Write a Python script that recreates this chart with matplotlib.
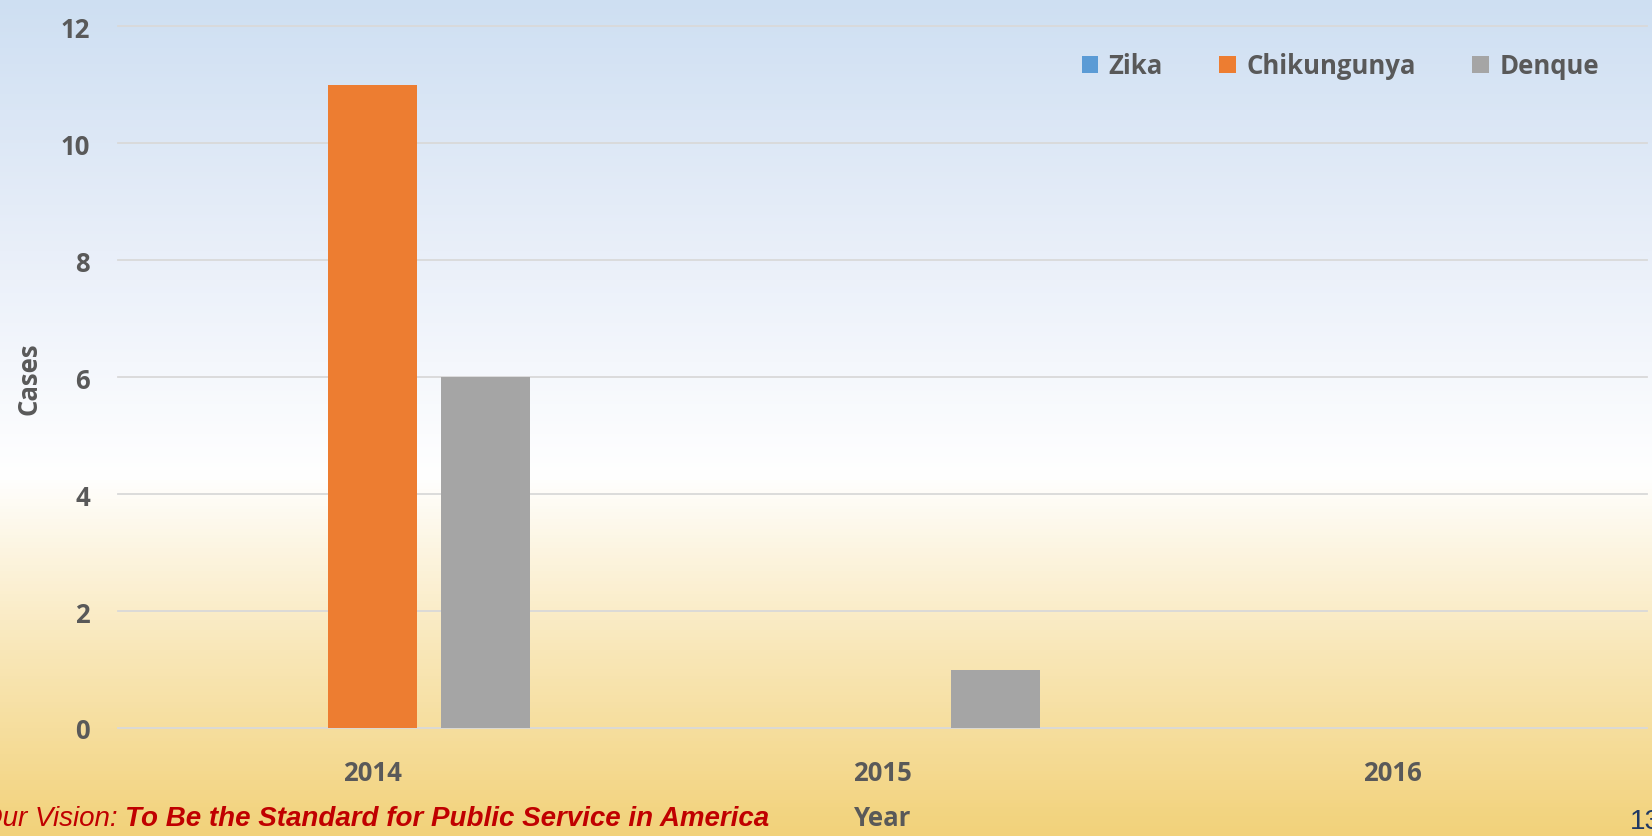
import matplotlib
matplotlib.use("Agg")
import matplotlib.pyplot as plt
import numpy as np
from matplotlib.colors import LinearSegmentedColormap

# Mosquito-borne disease cases by year
years = ["2014", "2015", "2016"]
zika = [0, 0, 0]
chikungunya = [11, 0, 0]
denque = [6, 1, 0]
series_names = ["Zika", "Chikungunya", "Denque"]
series_colors = ["#5b9bd5", "#ed7d31", "#a5a5a5"]
y_ticks = [0, 2, 4, 6, 8, 10, 12]

W, H = 1652, 837
fig = plt.figure(figsize=(W / 100, H / 100), dpi=100)

# background gradient: light blue -> white -> gold
bg = fig.add_axes([0, 0, 1, 1], zorder=-10)
cmap = LinearSegmentedColormap.from_list(
    "bg", [(0.0, "#f2d27a"), (0.22, "#f9e7b8"), (0.43, "#ffffff"), (0.7, "#e9eff9"), (1.0, "#cedff2")])
grad = np.linspace(0, 1, 256).reshape(-1, 1)
bg.imshow(grad, aspect="auto", cmap=cmap, origin="lower", extent=[0, 1, 0, 1])
bg.axis("off")

ax = fig.add_axes([118 / W, 1 - 729 / H, 1529 / W, (729 - 27.4) / H])
ax.patch.set_alpha(0)

font = "Open Sans"
fsize = 18.5
tick_color = "#595959"
x = np.arange(len(years))
width = 0.175
step = 0.221
for i, (name, vals, col) in enumerate(zip(series_names, [zika, chikungunya, denque], series_colors)):
    ax.bar(x + (i - 1) * step, vals, width, color=col, label=name, zorder=3)

ax.set_xlim(-0.5, len(years) - 0.5)
ax.set_ylim(0, 12)
ax.set_yticks(y_ticks)
ax.set_xticks(x)
ax.set_xticklabels(years)
for s in ax.spines.values():
    s.set_visible(False)
ax.tick_params(length=0)
ax.tick_params(axis="y", pad=20)
ax.tick_params(axis="x", pad=22)
for lab in ax.get_xticklabels() + ax.get_yticklabels():
    lab.set_fontfamily(font)
    lab.set_fontweight("bold")
    lab.set_fontsize(fsize)
    lab.set_color(tick_color)
for yv in y_ticks:
    ax.axhline(yv, color="#d9d9d9", lw=1.3, zorder=1, clip_on=False)

fig.text(29.5 / W, 1 - 379 / H, "Cases", rotation=90, ha="center", va="center",
         fontfamily=font, fontweight="bold", fontsize=fsize, color=tick_color)
fig.text(883 / W, 1 - 819 / H, "Year", ha="center", va="center",
         fontfamily=font, fontweight="bold", fontsize=fsize, color=tick_color)

ax.legend(loc="center right", bbox_to_anchor=(1622 / W, 1 - 67 / H), bbox_transform=fig.transFigure,
          ncol=3, frameon=False, handlelength=0.65, handleheight=0.65, handletextpad=0.4,
          columnspacing=2.2, prop={"family": font, "weight": "bold", "size": fsize}, labelcolor=tick_color)

# footer
fig.canvas.draw()
r = fig.canvas.get_renderer()
fam = ["Liberation Sans"]
t2 = fig.text(769 / W, 1 - 826 / H, "To Be the Standard for Public Service in America", ha="right",
              va="baseline", fontfamily=fam, fontstyle="italic", fontweight="bold", fontsize=20, color="#c00000")
bb = t2.get_window_extent(r)
fig.text(bb.x0 / W, 1 - 826 / H, "Our Vision: ", ha="right", va="baseline",
         fontfamily=fam, fontstyle="italic", fontsize=20, color="#c00000")
fig.text(1630 / W, 1 - 829 / H, "13", ha="left", va="baseline", fontfamily="Liberation Sans",
         fontsize=20, color="#1f3864")

fig.savefig("out.png", dpi=100)
